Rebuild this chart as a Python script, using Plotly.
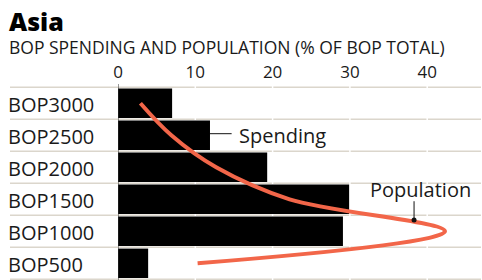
import plotly.graph_objects as go

# ---- data ----
categories = ["BOP500", "BOP1000", "BOP1500", "BOP2000", "BOP2500", "BOP3000"]
spending = [3.9, 29.1, 29.9, 19.3, 11.9, 7.0]
population = [10.3, 42.3, 22.2, 12.7, 6.9, 2.9]
tick_vals = [0, 10, 20, 30, 40]
title_text = "Asia"
subtitle_text = "BOP SPENDING AND POPULATION (% OF BOP TOTAL)"

FONT = "Open Sans"
TXT = "#1a1a1a"
GRID = "#dbd6cc"
RED = "#f26649"

W, H = 482, 280
ML, MR, MT, MB = 118, 1, 84, 0
PW = W - ML - MR
PH = H - MT - MB

y_pos = list(range(len(categories)))

fig = go.Figure()
fig.add_trace(go.Bar(x=spending, y=y_pos, orientation="h",
                     marker=dict(color="#000000", line=dict(width=0)),
                     hoverinfo="skip", showlegend=False))
fig.add_trace(go.Scatter(x=population, y=y_pos, mode="lines",
                         line=dict(color=RED, width=4, shape="spline", smoothing=1),
                         hoverinfo="skip", showlegend=False))

# population marker dot
dot_x, dot_y = 38.3, 1.35
fig.add_trace(go.Scatter(x=[dot_x], y=[dot_y], mode="markers",
                         marker=dict(color="#111", size=5),
                         hoverinfo="skip", showlegend=False))

shapes = []
left_paper = (10 - ML) / PW
for k in range(len(categories) + 1):
    b = k - 0.5
    shapes.append(dict(type="line", xref="paper", x0=left_paper, x1=1.0,
                       yref="y", y0=b, y1=b, line=dict(color=GRID, width=1.5),
                       layer="below"))
for t in tick_vals[1:]:
    shapes.append(dict(type="line", xref="x", x0=t, x1=t, yref="paper", y0=0, y1=1,
                       line=dict(color="#ffffff", width=1.5), layer="below"))
# zero axis line
shapes.append(dict(type="line", xref="x", x0=0, x1=0, yref="paper", y0=0, y1=1,
                   line=dict(color="#333333", width=1), layer="above"))
# leader lines
shapes.append(dict(type="line", xref="x", x0=spending[4], x1=14.7, yref="y",
                   y0=4.05, y1=4.05, line=dict(color="#111", width=1)))
shapes.append(dict(type="line", xref="x", x0=dot_x, x1=dot_x, yref="y",
                   y0=1.94, y1=dot_y, line=dict(color="#111", width=1)))

annotations = []
def py(px):
    return (H - MB - px) / PH

annotations.append(dict(text=title_text, xref="paper", yref="paper",
                        x=(7 - ML) / PW, y=py(21.5), xanchor="left", yanchor="middle",
                        showarrow=False,
                        font=dict(family=FONT, size=25, color="#000", weight=800)))
annotations.append(dict(text=subtitle_text, xref="paper", yref="paper",
                        x=(7 - ML) / PW, y=py(47), xanchor="left", yanchor="middle",
                        showarrow=False, font=dict(family=FONT, size=17.5, color=TXT)))
for i, c in enumerate(categories):
    annotations.append(dict(text=c, xref="paper", yref="y", x=(6 - ML) / PW, y=i - 0.03,
                            xanchor="left", yanchor="middle", showarrow=False,
                            font=dict(family=FONT, size=20, color=TXT)))
annotations.append(dict(text="Spending", xref="x", yref="y", x=15.4, y=4.0,
                        xanchor="left", yanchor="middle", showarrow=False,
                        font=dict(family=FONT, size=20, color=TXT)))
annotations.append(dict(text="Population", xref="x", yref="y", x=39.1, y=2.31,
                        xanchor="center", yanchor="middle", showarrow=False,
                        font=dict(family=FONT, size=20, color=TXT)))

fig.update_layout(
    width=W, height=H,
    margin=dict(l=ML, r=MR, t=MT, b=MB, autoexpand=False),
    paper_bgcolor="white", plot_bgcolor="white",
    bargap=0.08,
    shapes=shapes, annotations=annotations,
    xaxis=dict(range=[0, PW / 7.73], side="top", tickvals=tick_vals,
               showgrid=False, zeroline=False, showline=False, ticks="",
               tickfont=dict(family=FONT, size=17, color=TXT), ticklabelstandoff=2,
               fixedrange=True),
    yaxis=dict(range=[-0.522, 5.603], showticklabels=False, showgrid=False,
               zeroline=False, showline=False, fixedrange=True),
)

fig.write_html("out.html", config={"displayModeBar": False},
               post_script="document.body.style.margin='0px';document.body.style.overflow='hidden';")
